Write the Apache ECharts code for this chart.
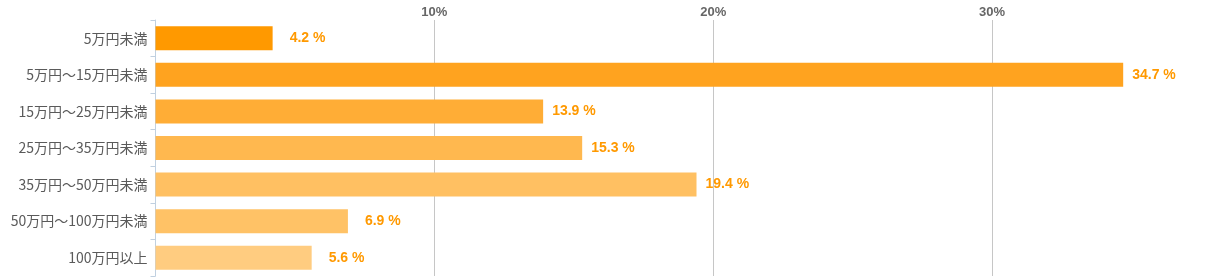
<!DOCTYPE html>
<html><head><meta charset="utf-8">
<script src="https://cdn.jsdelivr.net/npm/echarts@6/dist/echarts.min.js"></script>
<style>html,body{margin:0;padding:0;background:#fff}#c{width:1221px;height:279px}</style>
</head><body><div id="c"></div>
<script>
var categories = ['5万円未満','5万円～15万円未満','15万円～25万円未満','25万円～35万円未満','35万円～50万円未満','50万円～100万円未満','100万円以上'];
var values = [4.2, 34.7, 13.9, 15.3, 19.4, 6.9, 5.6];
var barColors = ['#ff9900','#ffa31f','#ffad36','#ffb84f','#ffc062','#ffc266','#ffcc80'];
var xTicks = [10, 20, 30];

var data = values.map(function(v, i){
  return {value: v, itemStyle: {color: barColors[i]}, label: {distance: v < 10 ? 17 : 9}};
});
var chart = echarts.init(document.getElementById('c'), null, {renderer: 'canvas'});
chart.setOption({
  animation: false,
  grid: {left: 155.5, right: 0, top: 20, bottom: 3, containLabel: false},
  xAxis: {
    type: 'value', position: 'top', min: 0, max: 38.1, interval: 10,
    axisLine: {show: false}, axisTick: {show: false},
    splitLine: {show: true, showMaxLine: false, lineStyle: {color: '#c6c6c6', width: 1}},
    axisLabel: {
      margin: 1, color: '#666', fontWeight: 'bold', fontSize: 13, fontFamily: 'Liberation Sans, Arial, sans-serif',
      formatter: function(v){ return xTicks.indexOf(v) >= 0 ? v + '%' : ''; }
    }
  },
  yAxis: {
    type: 'category', data: categories, inverse: true,
    axisLine: {show: true, lineStyle: {color: '#c0d0e0', width: 1}},
    axisTick: {show: true, length: 5, lineStyle: {color: '#c0d0e0'}},
    axisLabel: {margin: 8, color: '#5a5a5a', fontSize: 14, fontFamily: 'Noto Sans CJK JP, sans-serif'}
  },
  series: [{
    type: 'bar', data: data, barWidth: 24,
    label: {show: true, position: 'right', color: '#ff9900', fontWeight: 'bold', fontSize: 14,
      fontFamily: 'Liberation Sans, Arial, sans-serif',
      formatter: function(p){ return p.value.toFixed(1) + ' %'; }}
  }]
});
</script></body></html>
